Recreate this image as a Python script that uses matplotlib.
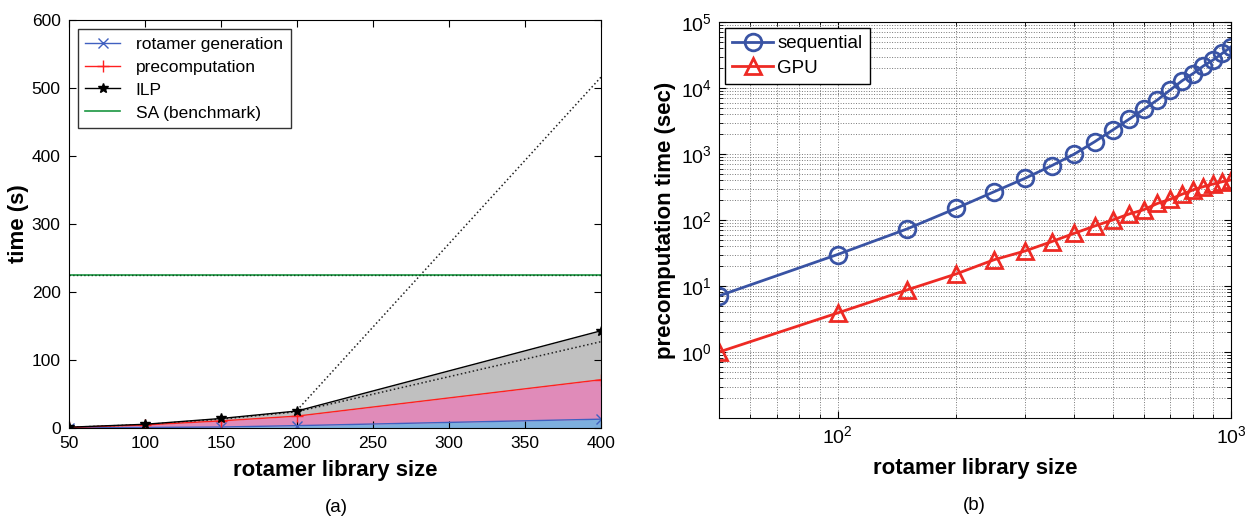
import matplotlib
matplotlib.use('Agg')
import matplotlib.pyplot as plt
from matplotlib.ticker import LogLocator

plt.rcParams['font.family'] = ['Liberation Sans', 'DejaVu Sans']
plt.rcParams['mathtext.default'] = 'regular'

# (a) timing breakdown
lib_size = [50, 100, 150, 200, 400]
rot_gen = [0.3, 0.8, 1.5, 3.5, 13]
precomp = [0.8, 4.5, 10.5, 17.5, 71]
ilp = [1.2, 5.5, 14, 25, 143]
sa_bench = 225
fit_x = [50, 100, 150, 200, 400]
fit_y = [1.0, 5.0, 13, 24, 127]
steep_x = [200, 400]
steep_y = [26, 516]

# (b) precomputation time, log-log
sizes = [50, 100, 150, 200, 250, 300, 350, 400, 450, 500,
         550, 600, 650, 700, 750, 800, 850, 900, 950, 1000]
sequential = [7.1, 30, 73, 150, 268, 430, 665, 1000, 1530, 2300,
              3350, 4750, 6600, 9300, 12800, 16500, 21500, 26500, 33500, 42000]
gpu = [1.0, 3.9, 8.7, 15.2, 25, 34, 47, 63, 81, 100,
       123, 143, 178, 206, 245, 285, 320, 350, 380, 404]

fig = plt.figure(figsize=(12.56, 5.19), dpi=100)

# ---- panel (a)
ax = fig.add_axes([0.0549, 0.1753, 0.4236, 0.7862])
ax.fill_between(lib_size, 0, rot_gen, color='#7dafde', lw=0)
ax.fill_between(lib_size, rot_gen, precomp, color='#e08bb9', lw=0)
ax.fill_between(lib_size, precomp, ilp, color='#c0c0c0', lw=0)
ax.plot(fit_x, fit_y, ':', color='#222222', lw=1.1)
ax.plot(steep_x, steep_y, ':', color='#222222', lw=1.1)
ax.plot(lib_size, rot_gen, '-x', color='#4060c0', lw=1, ms=7, label='rotamer generation')
ax.plot(lib_size, precomp, '-+', color='#ff2020', lw=1, ms=8, label='precomputation')
ax.plot(lib_size, ilp, '-*', color='black', lw=1, ms=7, label='ILP')
ax.plot([50, 400], [sa_bench, sa_bench], '-', color='#1a9641', lw=1.2, label='SA (benchmark)')
ax.plot([50, 400], [sa_bench, sa_bench], ':', color='#0b4d1f', lw=1.0)

ax.set_xlim(50, 400)
ax.set_ylim(0, 600)
ax.set_xticks(range(50, 401, 50))
ax.set_yticks(range(0, 601, 100))
ax.tick_params(direction='in', top=True, right=True, labelsize=12.5, length=5, pad=6)
ax.set_xlabel('rotamer library size', fontsize=16, fontweight='bold', labelpad=6)
ax.set_ylabel('time (s)', fontsize=16, fontweight='bold', labelpad=2)
leg = ax.legend(loc='upper left', fontsize=12.5, frameon=True, fancybox=False,
                edgecolor='black', borderaxespad=0.5, handlelength=2.0,
                handletextpad=0.9, labelspacing=0.45, borderpad=0.45)
leg.get_frame().set_linewidth(1)
fig.text(0.2675, 0.022, '(a)', fontsize=13.5, ha='center', va='center')

# ---- panel (b)
bx = fig.add_axes([0.5725, 0.1946, 0.4076, 0.763])
bx.set_xscale('log')
bx.set_yscale('log')
bx.plot(sizes, sequential, '-o', color='#3953a4', lw=2, ms=12, mfc='none', mew=2,
        label='sequential')
bx.plot(sizes, gpu, '-^', color='#ee2a24', lw=2, ms=12, mfc='none', mew=2,
        label='GPU')
bx.set_xlim(50, 1000)
bx.set_ylim(0.1, 1e5)
bx.yaxis.set_minor_locator(LogLocator(base=10, subs=range(2, 10), numticks=20))
bx.set_yticks([1, 10, 100, 1000, 1e4, 1e5])
bx.grid(True, which='both', ls=':', color='#777777', lw=0.7)
bx.tick_params(which='both', direction='in', top=True, right=True)
bx.tick_params(which='major', labelsize=14, length=5, pad=5)
bx.tick_params(which='minor', length=3)
bx.set_xlabel('rotamer library size', fontsize=16, fontweight='bold', labelpad=8)
bx.set_ylabel('precomputation time (sec)', fontsize=16, fontweight='bold', labelpad=4)
leg2 = bx.legend(loc='upper left', fontsize=13.5, frameon=True, fancybox=False,
                 edgecolor='black', borderaxespad=0.3, handlelength=2.2,
                 handletextpad=0.2, labelspacing=0.4, borderpad=0.4)
leg2.get_frame().set_linewidth(1)
leg2.get_frame().set_alpha(1)
fig.text(0.776, 0.026, '(b)', fontsize=13.5, ha='center', va='center')

fig.savefig('out.png', dpi=100)
